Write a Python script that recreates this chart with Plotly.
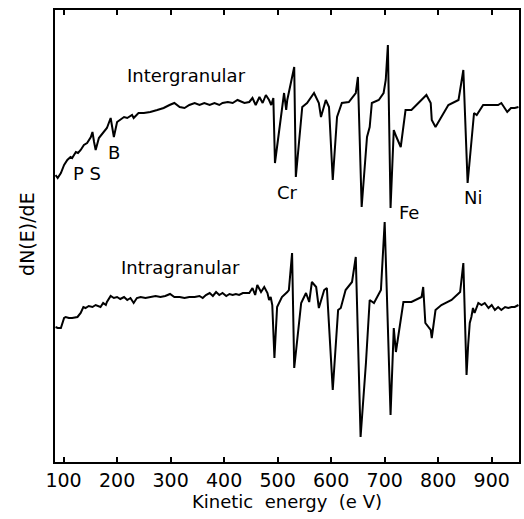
import plotly.graph_objects as go

# Kinetic energy (eV) and dN(E)/dE (arbitrary units)
inter_energy = [85, 89, 95, 101, 107, 113, 116, 123, 127, 132, 138, 144, 151, 154, 157, 160, 166, 175, 181, 188,
                191, 194, 200, 206, 213, 219, 228, 231, 240, 250, 262, 275, 287, 298, 307, 317, 326, 335, 345, 354,
                363, 373, 382, 391, 397, 407, 416, 425, 432, 438, 447, 453, 459, 466, 472, 478, 484, 488, 492, 495,
                512, 516, 518, 531, 534, 546, 555, 568, 577, 581, 590, 596, 603, 611, 620, 633, 646, 650, 657, 667,
                672, 676, 689, 698, 702, 706, 711, 717, 722, 730, 739, 750, 763, 778, 786, 788, 795, 806, 819, 838,
                847, 855, 867, 872, 878, 884, 893, 903, 912, 918, 925, 929, 936, 943, 950]
inter_signal = [287, 284, 289, 297, 302, 305, 304, 310, 309, 312, 317, 319, 325, 330, 320, 312, 324, 330, 334, 344,
                334, 325, 340, 342, 345, 344, 347, 344, 349, 349, 350, 352, 354, 357, 359, 355, 354, 357, 359, 357,
                359, 357, 359, 357, 359, 360, 359, 362, 360, 359, 360, 364, 357, 365, 359, 367, 362, 357, 364, 299,
                369, 352, 362, 395, 285, 355, 359, 369, 359, 345, 362, 355, 282, 345, 359, 360, 369, 385, 255, 325,
                335, 359, 362, 369, 382, 417, 254, 332, 325, 315, 352, 352, 359, 367, 359, 342, 335, 345, 357, 362,
                392, 279, 349, 347, 352, 357, 357, 357, 357, 359, 354, 350, 354, 354, 355]

intra_energy = [85, 89, 95, 98, 101, 104, 110, 116, 126, 132, 137, 141, 147, 154, 160, 169, 174, 179, 181, 188,
                194, 200, 206, 213, 219, 225, 231, 237, 244, 253, 262, 272, 281, 290, 299, 307, 317, 326, 335, 345,
                354, 360, 366, 373, 379, 385, 391, 397, 404, 410, 416, 422, 428, 435, 441, 447, 453, 458, 462, 469,
                475, 481, 484, 487, 490, 494, 499, 508, 518, 521, 527, 531, 544, 553, 559, 564, 572, 577, 587, 592,
                603, 613, 618, 627, 639, 646, 655, 665, 672, 680, 693, 700, 711, 717, 721, 726, 735, 750, 769, 772,
                776, 786, 788, 795, 806, 825, 841, 847, 853, 856, 859, 862, 865, 868, 872, 875, 881, 887, 894, 900,
                906, 912, 918, 925, 931, 937, 943, 950]
intra_signal = [135, 134, 134, 139, 144, 145, 144, 144, 145, 149, 155, 154, 156, 155, 157, 155, 159, 157, 160, 166,
                164, 165, 163, 165, 162, 164, 159, 164, 165, 164, 165, 166, 165, 166, 168, 165, 165, 164, 165, 165,
                166, 164, 167, 169, 166, 170, 167, 169, 166, 168, 167, 168, 167, 169, 169, 169, 174, 167, 177, 170,
                175, 169, 162, 165, 157, 104, 155, 165, 170, 172, 209, 94, 159, 169, 160, 180, 175, 154, 172, 174,
                72, 152, 154, 172, 180, 205, 25, 99, 162, 159, 172, 240, 47, 134, 110, 129, 160, 160, 165, 175,
                139, 132, 124, 152, 157, 162, 170, 199, 87, 117, 139, 145, 154, 149, 155, 159, 157, 159, 154, 157,
                152, 155, 152, 155, 154, 155, 155, 157]

x_ticks = [100, 200, 300, 400, 500, 600, 700, 800, 900]

# labels: (text, energy, signal)
label_text = ["Intergranular", "Intragranular", "P S", "B", "Cr", "Fe", "Ni"]
label_x = [330, 319, 144, 194, 519, 745, 865]
label_y = [387, 195, 289, 310, 270, 250, 265]

FONT = "DejaVu Sans"

fig = go.Figure()
fig.add_trace(go.Scatter(x=inter_energy, y=inter_signal, mode="lines",
                         line=dict(color="black", width=2), showlegend=False))
fig.add_trace(go.Scatter(x=intra_energy, y=intra_signal, mode="lines",
                         line=dict(color="black", width=2), showlegend=False))

for t, lx, ly in zip(label_text, label_x, label_y):
    fig.add_annotation(x=lx, y=ly, text=t, showarrow=False,
                       font=dict(family=FONT, size=18, color="black"))

fig.add_annotation(xref="paper", yref="paper", x=-0.088, y=0.505, text="dN(E)/dE",
                   textangle=-90, showarrow=False,
                   font=dict(family=FONT, size=19, color="black"))

fig.update_layout(
    width=524, height=519,
    margin=dict(l=55, r=3, t=10, b=57),
    plot_bgcolor="white", paper_bgcolor="white",
    font=dict(family=FONT, size=18, color="black"),
    xaxis=dict(range=[84, 951], tickvals=x_ticks, ticks="inside", ticklen=5, tickwidth=1.5,
               tickcolor="black", showline=True, linecolor="black", linewidth=2, mirror="ticks",
               showgrid=False, zeroline=False, tickfont=dict(size=19),
               title=dict(text="Kinetic  energy  (e V)", standoff=1, font=dict(size=18))),
    yaxis=dict(range=[0, 452], showticklabels=False, ticks="", showline=True, linecolor="black",
               linewidth=2, mirror=True, showgrid=False, zeroline=False),
)

fig.write_html("out.html")
